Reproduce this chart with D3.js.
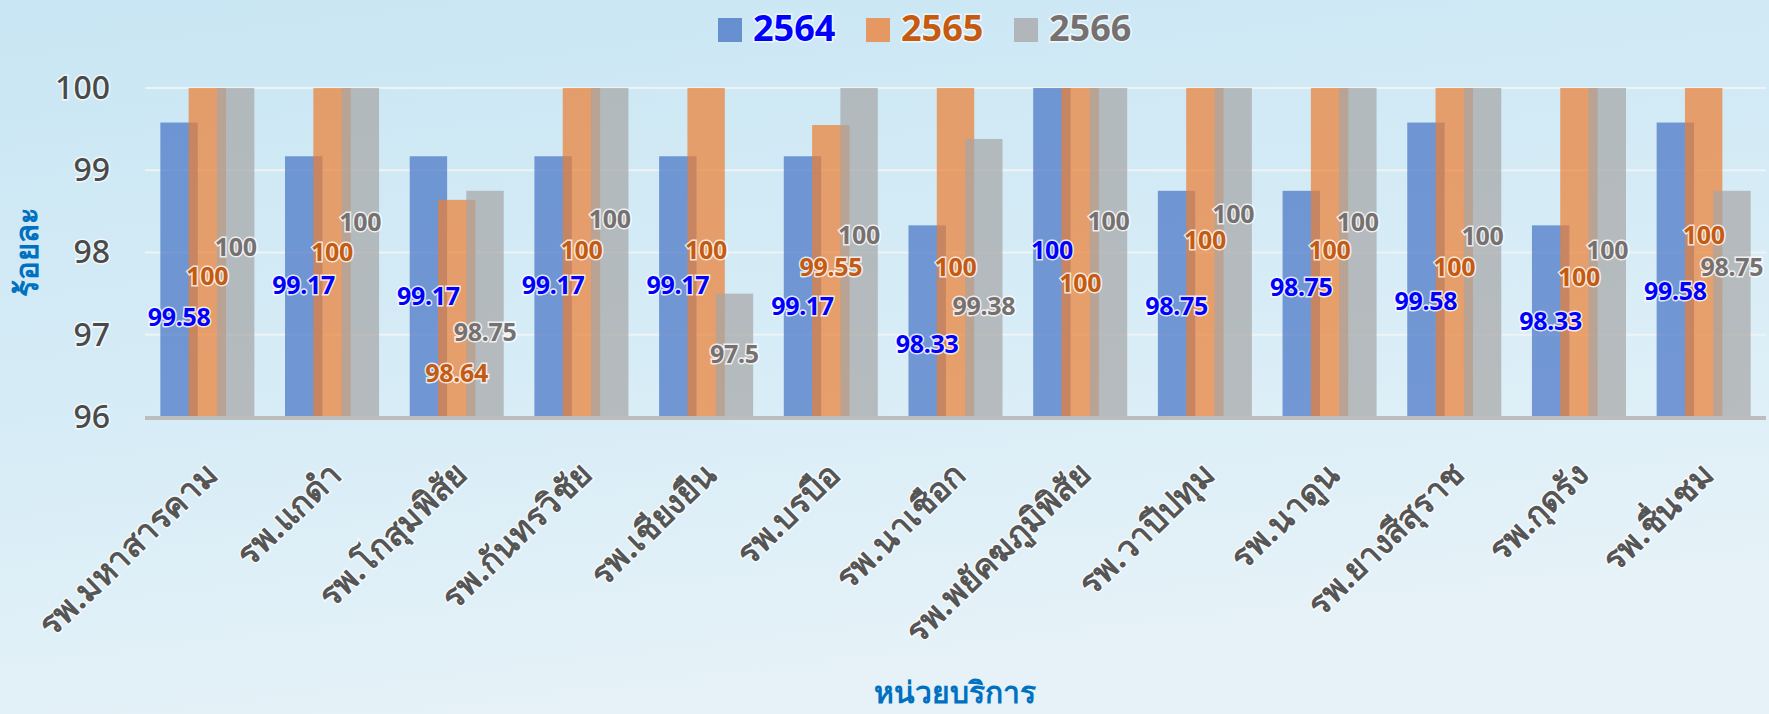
<!DOCTYPE html>
<html>
<head>
<meta charset="utf-8">
<script src="https://cdn.jsdelivr.net/npm/d3@7"></script>
<style>
  html, body { margin: 0; padding: 0; }
  body { width: 1769px; height: 714px; overflow: hidden; }
  text { font-family: "Noto Sans", "DejaVu Sans", sans-serif; }
</style>
</head>
<body>
<svg id="chart"></svg>
<script>
// hospitals (x categories)
var hospitals = ["รพ.มหาสารคาม", "รพ.แกดำ", "รพ.โกสุมพิสัย", "รพ.กันทรวิชัย", "รพ.เชียงยืน",
    "รพ.บรบือ", "รพ.นาเชือก", "รพ.พยัคฆภูมิพิสัย", "รพ.วาปีปทุม", "รพ.นาดูน",
    "รพ.ยางสีสุราช", "รพ.กุดรัง", "รพ.ชื่นชม"];
var years = ["2564", "2565", "2566"];

// percent values per year
var values2564 = [99.58, 99.17, 99.17, 99.17, 99.17, 99.17, 98.33, 100, 98.75, 98.75, 99.58, 98.33, 99.58];
var values2565 = [100, 100, 98.64, 100, 100, 99.55, 100, 100, 100, 100, 100, 100, 100];
var values2566 = [100, 100, 98.75, 100, 97.5, 100, 99.38, 100, 100, 100, 100, 100, 98.75];

var yTicks = [96, 97, 98, 99, 100];

// where the data labels were dragged to (in axis units)
var labelAt2564 = [97.23, 97.62, 97.48, 97.62, 97.62, 97.36, 96.9, 98.04, 97.36, 97.59, 97.42, 97.18, 97.55];
var labelAt2565 = [97.73, 98.02, 96.55, 98.04, 98.04, 97.84, 97.84, 97.64, 98.16, 98.04, 97.84, 97.71, 98.22];
var labelAt2566 = [98.08, 98.38, 97.05, 98.42, 96.78, 98.23, 97.36, 98.4, 98.48, 98.38, 98.21, 98.04, 97.83];

var width = 1769, height = 714;
var margin = {top: 88, right: 3, bottom: 297, left: 145};

var barColors = {"2564": "#4472c4", "2565": "#ed7d31", "2566": "#a5a5a5"};
var textColors = {"2564": "#0000ff", "2565": "#c55a11", "2566": "#767171"};

var series = [
    {year: "2564", values: values2564, labels: labelAt2564},
    {year: "2565", values: values2565, labels: labelAt2565},
    {year: "2566", values: values2566, labels: labelAt2566}
];

var svg = d3.select('#chart')
    .attr('width', width)
    .attr('height', height);

// background
var defs = svg.append('defs');
var grad = defs.append('linearGradient')
    .attr('id', 'bg')
    .attr('x1', 0).attr('y1', 0).attr('x2', 0.3).attr('y2', 1);
grad.append('stop').attr('offset', '0%').attr('stop-color', '#c9e6f4');
grad.append('stop').attr('offset', '55%').attr('stop-color', '#d6ecf6');
grad.append('stop').attr('offset', '100%').attr('stop-color', '#e6f2f8');

svg.append('rect')
    .attr('width', width)
    .attr('height', height)
    .attr('fill', 'url(#bg)');

var xScale = d3.scaleBand()
    .domain(hospitals)
    .range([margin.left, width - margin.right])
    .padding(0);
var bw = xScale.bandwidth();
var xInner = d3.scalePoint()
    .domain(years)
    .range([-0.227 * bw, 0.227 * bw]);
var barW = 0.30 * bw;

var yScale = d3.scaleLinear()
    .domain([96, 100])
    .range([height - margin.bottom, margin.top]);

// gridlines
svg.append('g')
    .selectAll('line')
    .data(yTicks.slice(1))
    .enter()
    .append('line')
    .attr('x1', margin.left)
    .attr('x2', width - margin.right)
    .attr('y1', function(d) { return yScale(d); })
    .attr('y2', function(d) { return yScale(d); })
    .attr('stroke', '#eef3f5')
    .attr('stroke-width', 2);

// y tick labels
var yAxis = d3.axisLeft(yScale).tickValues(yTicks).tickFormat(d3.format('d')).tickSize(0).tickPadding(35);
var gy = svg.append('g')
    .attr('transform', 'translate(' + margin.left + ',0)')
    .call(yAxis);
gy.select('.domain').remove();
gy.selectAll('text')
    .attr('font-size', '32px')
    .attr('font-weight', 500)
    .attr('fill', '#4a4a4a')
    .attr('stroke', '#ffffff')
    .attr('stroke-width', 3)
    .attr('stroke-opacity', 0.7)
    .attr('paint-order', 'stroke');

// bars
var groups = svg.append('g')
    .selectAll('g')
    .data(series)
    .enter()
    .append('g');

groups.selectAll('rect')
    .data(function(s) { return s.values.map(function(v, i) { return {year: s.year, value: v, name: hospitals[i]}; }); })
    .enter()
    .append('rect')
    .attr('class', 'bar')
    .attr('x', function(d) { return xScale(d.name) + bw / 2 + xInner(d.year) - barW / 2; })
    .attr('y', function(d) { return yScale(d.value); })
    .attr('width', barW)
    .attr('height', function(d) { return yScale(96) - yScale(d.value); })
    .attr('fill', function(d) { return barColors[d.year]; })
    .attr('fill-opacity', 0.7);

// x axis line
svg.append('line')
    .attr('x1', margin.left)
    .attr('x2', width - margin.right)
    .attr('y1', yScale(96) + 1)
    .attr('y2', yScale(96) + 1)
    .attr('stroke', '#bdbdbd')
    .attr('stroke-width', 4);

// data labels
var labels = svg.append('g')
    .selectAll('g')
    .data(series)
    .enter()
    .append('g');

labels.selectAll('text')
    .data(function(s) { return s.values.map(function(v, i) { return {year: s.year, value: v, name: hospitals[i], at: s.labels[i]}; }); })
    .enter()
    .append('text')
    .attr('x', function(d) { return xScale(d.name) + bw / 2 + xInner(d.year); })
    .attr('y', function(d) { return yScale(d.at); })
    .attr('text-anchor', 'middle')
    .attr('dominant-baseline', 'central')
    .attr('font-size', '25px')
    .attr('font-weight', 'bold')
    .attr('letter-spacing', '-0.3px')
    .attr('fill', function(d) { return textColors[d.year]; })
    .attr('stroke', '#ffffff')
    .attr('stroke-width', 3)
    .attr('stroke-opacity', 0.8)
    .attr('paint-order', 'stroke')
    .text(function(d) { return d.value; });

// x tick labels
var xAxis = d3.axisBottom(xScale).tickSize(0);
var gx = svg.append('g')
    .attr('transform', 'translate(0,' + yScale(96) + ')')
    .call(xAxis);
gx.select('.domain').remove();
gx.selectAll('text')
    .attr('font-size', '33px')
    .attr('font-weight', 'bold')
    .attr('fill', '#555555')
    .attr('stroke', '#ffffff')
    .attr('stroke-width', 3)
    .attr('stroke-opacity', 0.7)
    .attr('paint-order', 'stroke')
    .attr('text-anchor', 'end')
    .attr('dy', null)
    .attr('y', 0)
    .attr('transform', 'translate(12,60) rotate(-44)');

// axis titles
svg.append('text')
    .attr('transform', 'translate(' + [26, 252] + ') rotate(-90)')
    .attr('text-anchor', 'middle')
    .attr('dominant-baseline', 'central')
    .attr('font-size', '31px')
    .attr('font-weight', 'bold')
    .attr('fill', '#0070c0')
    .text('ร้อยละ');

svg.append('text')
    .attr('x', 955)
    .attr('y', 703)
    .attr('text-anchor', 'middle')
    .attr('font-size', '30px')
    .attr('font-weight', 'bold')
    .attr('fill', '#0070c0')
    .text('หน่วยบริการ');

// legend
var legendX = d3.scalePoint().domain(years).range([718, 1014]);
var legend = svg.append('g')
    .selectAll('g')
    .data(years)
    .enter()
    .append('g')
    .attr('transform', function(d) { return 'translate(' + legendX(d) + ',18)'; });

legend.append('rect')
    .attr('width', 24)
    .attr('height', 24)
    .attr('fill', function(d) { return barColors[d]; })
    .attr('fill-opacity', 0.75);

legend.append('text')
    .attr('x', 35)
    .attr('y', 23)
    .attr('font-size', '36px')
    .attr('font-weight', 'bold')
    .attr('fill', function(d) { return textColors[d]; })
    .attr('stroke', '#ffffff')
    .attr('stroke-width', 3)
    .attr('stroke-opacity', 0.7)
    .attr('paint-order', 'stroke')
    .text(function(d) { return d; });
</script>
</body>
</html>
